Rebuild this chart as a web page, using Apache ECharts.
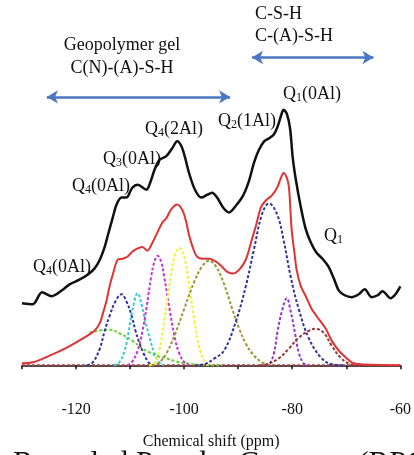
<!DOCTYPE html>
<html>
<head>
<meta charset="utf-8">
<script src="https://cdn.jsdelivr.net/npm/echarts@6/dist/echarts.min.js"></script>
<style>
  html, body { margin: 0; padding: 0; background: #fff; }
  #chart { width: 414px; height: 455px; }
</style>
</head>
<body>
<div id="chart"></div>
<script>
// 29Si NMR spectrum: chemical shift (ppm) vs. intensity (arbitrary units)
const xTicks = [-130, -120, -110, -100, -90, -80, -70, -60];
const xTickLabels = ['', '-120', '', '-100', '', '-80', '', '-60'];

const measured = [
  [-130, 63], [-128, 62], [-126.3, 74], [-124.5, 70], [-122.6, 76], [-121.2, 82],
  [-119.3, 87], [-117.8, 92], [-116.6, 98], [-115.6, 107], [-114.7, 120], [-114.2, 130],
  [-113.2, 150], [-112.5, 163], [-111.6, 170], [-110.7, 170], [-109.6, 180], [-108.6, 183],
  [-107.0, 178], [-106.1, 188], [-105.5, 198], [-104.6, 208], [-103.3, 212], [-102.2, 220],
  [-101.3, 227], [-100.5, 222], [-99.8, 210], [-99.1, 195], [-98.0, 178], [-96.8, 170],
  [-95.7, 173], [-94.8, 175], [-93.9, 170], [-92.8, 160], [-91.7, 155], [-90.4, 162],
  [-89.1, 172], [-88.0, 187], [-87.1, 205], [-86.2, 218], [-85.2, 227], [-84.3, 230],
  [-83.4, 234], [-82.7, 242], [-81.9, 256], [-81.6, 259], [-81.0, 255], [-80.4, 240],
  [-79.9, 210], [-79.3, 187], [-78.4, 160], [-77.5, 138], [-76.6, 125], [-75.5, 114],
  [-74.4, 108], [-73.3, 100], [-72.3, 88], [-71.4, 76], [-70.3, 71], [-69.0, 69],
  [-67.7, 72], [-66.6, 77], [-65.3, 69], [-64.2, 71], [-63.3, 75], [-61.8, 68],
  [-60.9, 72], [-60, 80]
];

const fittedSum = [
  [-130, 2], [-128, 3], [-124.8, 10], [-121.7, 18], [-118.8, 27], [-116.6, 35],
  [-115.6, 43], [-114.9, 55], [-114.3, 67], [-113.8, 80], [-113.2, 92], [-112.3, 107],
  [-111.4, 108], [-110.5, 110], [-109.6, 115], [-108.8, 118], [-107.7, 120], [-106.8, 116],
  [-105.9, 124], [-105.1, 133], [-104.0, 145], [-103.3, 149], [-102.4, 158], [-101.3, 163],
  [-100.3, 157], [-99.6, 145], [-99.1, 132], [-98.3, 118], [-97.6, 110], [-96.5, 108],
  [-95.4, 108], [-94.1, 105], [-93.0, 100], [-92.1, 95], [-91.0, 93], [-89.8, 97],
  [-88.6, 107], [-87.6, 125], [-86.7, 142], [-85.8, 160], [-84.9, 167], [-83.8, 172],
  [-82.8, 180], [-82.1, 190], [-81.6, 195], [-81.0, 190], [-80.6, 180], [-80.1, 137],
  [-79.5, 110], [-79.2, 97], [-78.4, 80], [-77.5, 70], [-76.4, 57], [-75.5, 50],
  [-73.8, 37], [-72.7, 25], [-71.4, 15], [-70.1, 8], [-69.0, 3], [-67.4, 1], [-60, 0]
];

// Deconvoluted component peaks
const peakQ4a = [
  [-117.5, 33], [-116.8, 34], [-115.5, 35.5], [-113.8, 36], [-111.8, 32], [-109.6, 25],
  [-108.0, 18], [-106.4, 13], [-104.8, 9], [-103.3, 7], [-101.5, 4], [-99.6, 2], [-97, 0.5], [-93, 0]
];
const peakQ4b = [
  [-118, 0], [-116.9, 3], [-115.6, 17], [-114.7, 35], [-113.8, 50], [-112.7, 65], [-111.6, 72],
  [-110.7, 65], [-109.7, 50], [-109.0, 35], [-108.3, 23], [-107.5, 12], [-106.6, 3], [-105.9, 0]
];
const peakQ4c = [
  [-113, 0], [-112, 3], [-111, 15], [-110.3, 33], [-109.6, 55], [-108.6, 73], [-107.9, 62],
  [-107.2, 45], [-106.4, 28], [-105.5, 12], [-104.6, 3], [-103.7, 0]
];
const peakQ3 = [
  [-110.5, 0], [-109.7, 3], [-108.6, 15], [-107.7, 35], [-107.0, 57], [-106.1, 90], [-105.5, 105],
  [-104.9, 111], [-104.2, 104], [-103.7, 90], [-102.7, 57], [-101.8, 30], [-100.9, 12],
  [-99.8, 2], [-99, 0]
];
const peakQ4_2Al = [
  [-106.5, 0], [-105.5, 2], [-104.6, 15], [-103.7, 45], [-102.7, 82], [-101.8, 110], [-100.9, 119],
  [-100.0, 110], [-99.1, 82], [-98.1, 45], [-97.2, 18], [-96.1, 2], [-95.3, 0]
];
const peakQ3_1Al = [
  [-106, 0], [-104.6, 3], [-103.3, 12], [-101.8, 30], [-100.0, 57], [-98.1, 85], [-96.7, 100],
  [-95.4, 106], [-94.1, 100], [-92.6, 82], [-91.1, 57], [-89.8, 37], [-88.6, 22], [-87.1, 10],
  [-85.6, 3], [-84, 0]
];
const peakQ2_1Al = [
  [-98, 0], [-96.3, 1], [-94.4, 7], [-92.6, 15], [-90.4, 45], [-88.6, 80], [-87.1, 117],
  [-85.6, 153], [-84.3, 164], [-82.8, 153], [-81.6, 127], [-80.3, 90], [-78.8, 57],
  [-76.9, 27], [-74.7, 8], [-72.7, 1], [-70.5, 0]
];
const peakQ1_0Al = [
  [-85, 0], [-84.3, 1], [-83.4, 12], [-82.7, 35], [-81.9, 55], [-81.0, 68], [-80.3, 55],
  [-79.5, 33], [-78.8, 13], [-77.9, 2], [-77, 0]
];
const peakQ1 = [
  [-86, 0], [-84.7, 1], [-82.5, 7], [-80.6, 17], [-78.8, 28], [-76.9, 35], [-75.7, 37],
  [-74.2, 33], [-72.7, 20], [-71.1, 8], [-69.2, 1], [-67.7, 0]
];
const baseline = [[-130, 0], [-60, 0]];

// Double arrows marking the gel regions
const arrowGeopolymer = [[-125.4, 272], [-91.5, 272]];
const arrowCSH = [[-87.45, 312], [-64.97, 312]];

const serif = '"Liberation Serif", "Times New Roman", serif';

function dashed(name, data, color) {
  return {
    name, type: 'line', data, smooth: 0.4, symbol: 'none', silent: true,
    lineStyle: { color, width: 2, type: [3, 2] }, z: 2
  };
}

function arrow(data) {
  return {
    type: 'line', data: [], silent: true,
    markLine: {
      silent: true, symbol: ['arrow', 'arrow'], symbolSize: [10, 11],
      label: { show: false },
      lineStyle: { color: '#4a78c4', width: 2.5, type: 'solid' },
      data: [[{ coord: data[0] }, { coord: data[1] }]]
    }
  };
}

function qLabel(x, y, main, sub, rest) {
  return {
    type: 'text', left: x, top: y - 10,
    style: {
      text: '{a|' + main + '}{s|' + sub + '}{a|' + rest + '}',
      rich: {
        a: { fontFamily: serif, fontSize: 18, lineHeight: 20, fill: '#111' },
        s: { fontFamily: serif, fontSize: 12, lineHeight: 10, verticalAlign: 'bottom', fill: '#111' }
      }
    }
  };
}

function plainText(x, y, text, align) {
  return {
    type: 'text', x, y,
    style: {
      text, fontFamily: serif, fontSize: 18, fill: '#111',
      align: align || 'left', verticalAlign: 'middle'
    }
  };
}

const chart = echarts.init(document.getElementById('chart'), null, { renderer: 'canvas' });
chart.setOption({
  animation: false,
  backgroundColor: '#fff',
  grid: { left: 22, right: 12, top: 20, bottom: 63 },
  xAxis: {
    type: 'value', min: -130, max: -60, interval: 10,
    name: 'Chemical shift (ppm)', nameLocation: 'middle', nameGap: 47,
    nameTextStyle: { fontFamily: serif, fontSize: 16, color: '#111' },
    axisLine: { lineStyle: { color: '#111', width: 1.5 } },
    axisTick: { length: 4, lineStyle: { color: '#111', width: 1.5 } },
    axisLabel: {
      margin: 15, fontFamily: serif, fontSize: 16, color: '#111',
      formatter: v => xTickLabels[xTicks.indexOf(v)] || ''
    },
    splitLine: { show: false }
  },
  yAxis: { type: 'value', min: -22, max: 350, show: false },
  series: [
    dashed('baseline', baseline, '#a04040'),
    dashed('Q4(0Al) broad', peakQ4a, '#6ccc3c'),
    dashed('Q4(0Al)', peakQ4b, '#33339a'),
    dashed('Q4(1Al)', peakQ4c, '#33cccc'),
    dashed('Q3(0Al)', peakQ3, '#cc33cc'),
    dashed('Q4(2Al)', peakQ4_2Al, '#f2f230'),
    dashed('Q3(1Al)', peakQ3_1Al, '#999933'),
    dashed('Q2(1Al)', peakQ2_1Al, '#33339a'),
    dashed('Q1(0Al)', peakQ1_0Al, '#9933cc'),
    dashed('Q1', peakQ1, '#993333'),
    {
      name: 'fit', type: 'line', data: fittedSum, smooth: 0.3, symbol: 'none', silent: true,
      lineStyle: { color: '#e03333', width: 2 }, z: 3
    },
    {
      name: 'measured', type: 'line', data: measured, smooth: 0.3, symbol: 'none', silent: true,
      lineStyle: { color: '#111', width: 2.5 }, z: 4
    },
    arrow(arrowGeopolymer),
    arrow(arrowCSH)
  ],
  graphic: [
    plainText(255, 14, 'C-S-H'),
    plainText(255, 36, 'C-(A)-S-H'),
    plainText(122, 45, 'Geopolymer gel', 'center'),
    plainText(122, 68, 'C(N)-(A)-S-H', 'center'),
    qLabel(283, 95, 'Q', '1', '(0Al)'),
    qLabel(218, 122, 'Q', '2', '(1Al)'),
    qLabel(145, 130, 'Q', '4', '(2Al)'),
    qLabel(103, 160, 'Q', '3', '(0Al)'),
    qLabel(72, 187, 'Q', '4', '(0Al)'),
    qLabel(33, 268, 'Q', '4', '(0Al)'),
    qLabel(324, 237, 'Q', '1', ''),
    {
      type: 'text', x: 13, y: 449,
      style: {
        text: 'Recycled Powder Concrete (RPC)', fontFamily: serif, fontSize: 31,
        fill: '#111', align: 'left', verticalAlign: 'top'
      }
    }
  ]
});
</script>
</body>
</html>
